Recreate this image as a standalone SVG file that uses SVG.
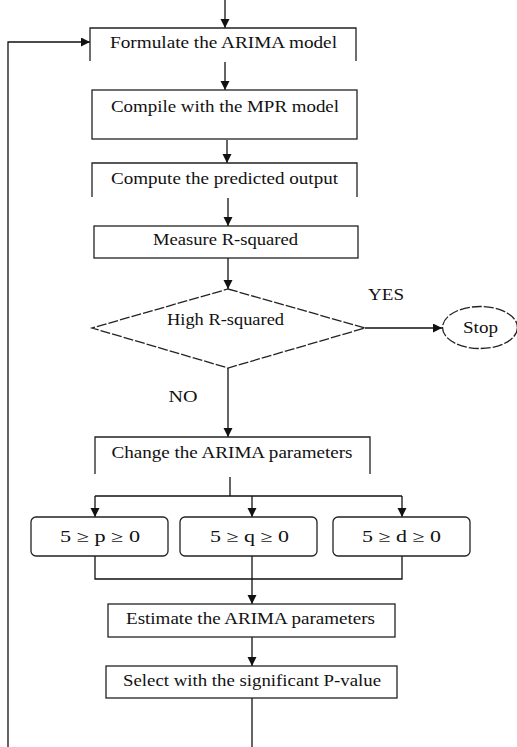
<svg xmlns="http://www.w3.org/2000/svg" width="517" height="747" viewBox="0 0 517 747">
<defs>
<marker id="ah" markerUnits="userSpaceOnUse" markerWidth="10" markerHeight="10" refX="9" refY="4.5" orient="auto">
<path d="M0,0 L9,4.5 L0,9 Z" fill="#111"/>
</marker>
<style>
.b{fill:none;stroke:#222;stroke-width:1.3}
.d{fill:none;stroke:#222;stroke-width:1.3;stroke-dasharray:10,2}
.c{fill:none;stroke:#111;stroke-width:1.3}
.a{marker-end:url(#ah)}
text{font-family:"Liberation Serif","Times New Roman",serif;font-size:16px;fill:#111;text-anchor:middle}
</style>
</defs>
<rect width="517" height="747" fill="#fff"/>
<g id="connectors">
<line class="c a" x1="225" y1="0" x2="225" y2="28"/>
<polyline class="c a" points="8,747 8,42 90,42"/>
<line class="c a" x1="225" y1="62" x2="225" y2="90"/>
<line class="c a" x1="227" y1="140" x2="227" y2="163"/>
<line class="c a" x1="228" y1="198" x2="228" y2="226"/>
<line class="c a" x1="228" y1="258" x2="228" y2="289"/>
<line class="c a" x1="365" y1="328" x2="442" y2="328"/>
<line class="c a" x1="228" y1="368" x2="228" y2="437"/>
<line class="c" x1="230" y1="477" x2="230" y2="496"/>
<line class="c" x1="95" y1="496" x2="402" y2="496"/>
<line class="c a" x1="95" y1="496" x2="95" y2="517"/>
<line class="c a" x1="252" y1="496" x2="252" y2="517"/>
<line class="c a" x1="402" y1="496" x2="402" y2="517"/>
<polyline class="c" points="95,556 95,579 402,579 402,556"/>
<line class="c" x1="252" y1="556" x2="252" y2="579"/>
<line class="c a" x1="252" y1="579" x2="252" y2="604"/>
<line class="c a" x1="252" y1="637" x2="252" y2="666"/>
<line class="c" x1="252" y1="698" x2="252" y2="747"/>
<text x="386" y="300" textLength="36" lengthAdjust="spacingAndGlyphs">YES</text>
<text x="183" y="402" textLength="29" lengthAdjust="spacingAndGlyphs">NO</text>
</g>
<g id="formulate">
<polyline class="b" points="90,61 90,28 356,28 356,61"/>
<text x="223.5" y="48" textLength="227" lengthAdjust="spacingAndGlyphs">Formulate the ARIMA model</text>
</g>
<g id="compile">
<rect class="b" x="92" y="90" width="265" height="49"/>
<text x="225" y="112" textLength="228" lengthAdjust="spacingAndGlyphs">Compile with the MPR model</text>
</g>
<g id="compute">
<polyline class="b" points="92,197 92,163 357,163 357,197"/>
<text x="224.5" y="184" textLength="227" lengthAdjust="spacingAndGlyphs">Compute the predicted output</text>
</g>
<g id="measure">
<rect class="b" x="94" y="226" width="264" height="32"/>
<text x="225.5" y="245" textLength="145" lengthAdjust="spacingAndGlyphs">Measure R-squared</text>
</g>
<g id="decision">
<polygon class="d" points="228,289 365,328 228,368 92,328"/>
<text x="225.5" y="325" textLength="117" lengthAdjust="spacingAndGlyphs">High R-squared</text>
</g>
<g id="stop">
<ellipse class="d" cx="480" cy="327.5" rx="37.5" ry="21"/>
<text x="480.5" y="333" textLength="35" lengthAdjust="spacingAndGlyphs">Stop</text>
</g>
<g id="change">
<polyline class="b" points="95,474 95,437 370,437 370,474"/>
<text x="232" y="458" textLength="241" lengthAdjust="spacingAndGlyphs">Change the ARIMA parameters</text>
</g>
<g id="p">
<rect class="b" x="31" y="517" width="137" height="39" rx="5"/>
<text x="100" y="542" textLength="80" lengthAdjust="spacingAndGlyphs">5 ≥ p ≥ 0</text>
</g>
<g id="q">
<rect class="b" x="180" y="517" width="137" height="39" rx="5"/>
<text x="249.5" y="542" textLength="79" lengthAdjust="spacingAndGlyphs">5 ≥ q ≥ 0</text>
</g>
<g id="d">
<rect class="b" x="333" y="517" width="137" height="39" rx="5"/>
<text x="401.5" y="542" textLength="79" lengthAdjust="spacingAndGlyphs">5 ≥ d ≥ 0</text>
</g>
<g id="estimate">
<rect class="b" x="108" y="604" width="287" height="33"/>
<text x="250.5" y="624" textLength="249" lengthAdjust="spacingAndGlyphs">Estimate the ARIMA parameters</text>
</g>
<g id="select">
<rect class="b" x="106" y="666" width="291" height="32"/>
<text x="252" y="686" textLength="258" lengthAdjust="spacingAndGlyphs">Select with the significant P-value</text>
</g>
</svg>
